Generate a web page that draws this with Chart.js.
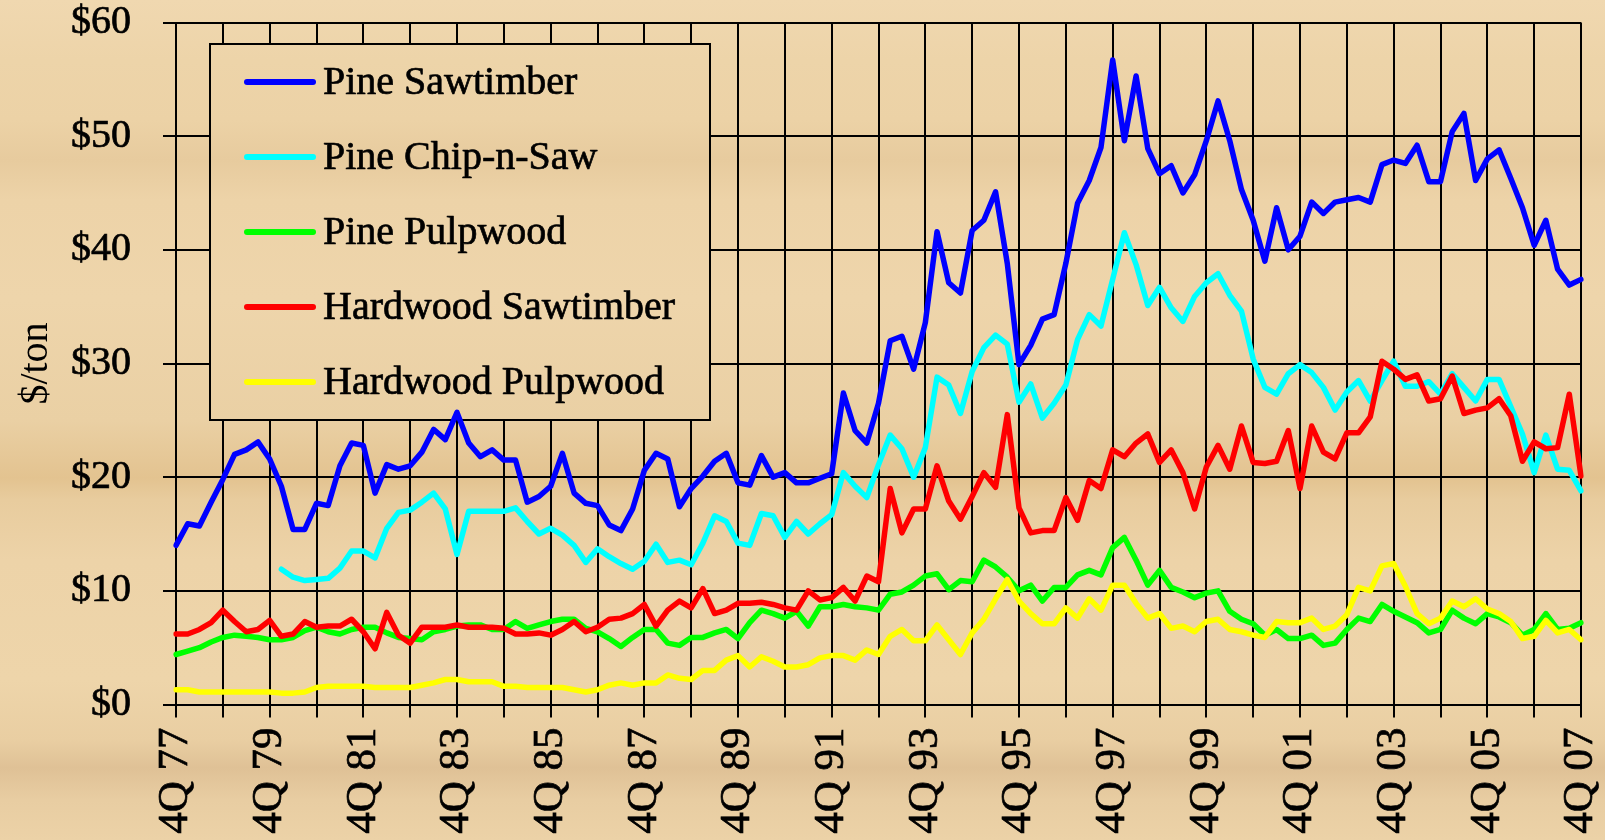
<!DOCTYPE html>
<html>
<head>
<meta charset="utf-8">
<script src="https://cdn.jsdelivr.net/npm/chart.js@4.4.1/dist/chart.umd.min.js"></script>
<style>
  html, body { margin: 0; padding: 0; }
  body {
    width: 1605px; height: 840px; overflow: hidden;
    background: linear-gradient(180deg,
      #F0D8B0 0px, #EDD4A9 60px, #ECD2A6 120px, #E7CB9E 160px, #EDD3A8 200px,
      #EED5AB 300px, #EAD0A4 420px, #E3C390 478px, #E8CC9E 500px, #EDD3A8 560px,
      #EED5AA 680px, #E9CEA2 740px, #DFC196 768px, #E8CDA2 800px, #ECD2A7 840px);
  }
  #wrap { position: relative; width: 1605px; height: 840px; }
</style>
</head>
<body>
<div id="wrap"><canvas id="chart" width="1605" height="840"></canvas></div>
<script>
// quarters 4Q77 .. 4Q07
const quarters = []
for (let k = 0; k <= 120; k++) {
    const q = ((3 + k) % 4) + 1
    const yr = (77 + Math.floor((k + 3) / 4)) % 100
    quarters.push(q + 'Q ' + String(yr).padStart(2, '0'))
}

const pineSawtimber = [14.0,15.9,15.7,17.8,19.8,22.0,22.4,23.1,21.6,19.2,
    15.4,15.4,17.7,17.5,21.0,23.0,22.8,18.6,21.1,20.7,
    21.0,22.2,24.2,23.3,25.7,23.0,21.8,22.4,21.5,21.5,
    17.8,18.3,19.2,22.1,18.6,17.7,17.5,15.8,15.3,17.2,
    20.6,22.1,21.6,17.4,19.0,20.1,21.4,22.1,19.5,19.3,
    21.9,20.0,20.4,19.5,19.5,19.9,20.3,27.4,24.1,23.0,
    26.5,32.0,32.4,29.5,33.6,41.6,37.1,36.2,41.7,42.6,
    45.1,38.8,29.9,31.6,33.9,34.3,38.8,44.1,46.1,49.0,
    56.7,49.6,55.3,48.9,46.7,47.4,45.0,46.6,49.6,53.1,
    49.6,45.3,42.6,39.0,43.7,40.0,41.2,44.2,43.2,44.2,
    44.4,44.6,44.2,47.5,47.9,47.6,49.2,46.0,46.0,50.4,
    52.0,46.1,48.0,48.8,46.3,43.7,40.4,42.6,38.3,36.9,
    37.4]

const pineChipNSaw = [null,null,null,null,null,null,null,null,null,
    11.9,11.2,10.9,11.0,11.1,12.0,13.5,13.5,12.9,15.5,
    16.9,17.1,17.8,18.6,17.2,13.2,17.0,17.0,17.0,17.0,
    17.3,16.1,15.0,15.5,14.9,14.0,12.5,13.7,13.0,12.4,
    11.9,12.6,14.1,12.5,12.7,12.3,14.2,16.6,16.1,14.2,
    14.0,16.8,16.6,14.7,16.1,15.0,15.9,16.7,20.4,19.2,
    18.2,21.1,23.7,22.5,20.0,22.6,28.8,28.1,25.6,29.3,
    31.4,32.5,31.7,26.6,28.2,25.2,26.5,28.1,32.1,34.3,
    33.3,37.4,41.5,38.7,35.1,36.7,34.9,33.7,35.9,37.1,
    37.9,36.0,34.6,30.4,27.9,27.3,29.1,29.9,29.2,27.9,
    25.9,27.5,28.5,26.7,28.5,30.2,28.0,28.0,28.4,27.3,
    29.1,27.9,26.7,28.6,28.6,26.2,23.8,20.4,23.7,20.7,
    20.6,18.8]

const pinePulpwood = [4.4,4.7,5.0,5.5,5.9,6.1,6.0,5.9,5.7,5.7,
    5.9,6.5,6.8,6.4,6.2,6.6,6.8,6.8,6.3,5.9,
    5.8,5.7,6.4,6.6,6.9,7.0,7.0,6.6,6.6,7.3,
    6.7,7.0,7.3,7.5,7.5,6.7,6.4,5.8,5.1,5.9,
    6.6,6.6,5.4,5.2,5.9,5.9,6.3,6.6,5.8,7.2,
    8.3,8.0,7.6,8.2,6.9,8.6,8.6,8.8,8.6,8.5,
    8.3,9.7,9.9,10.5,11.3,11.5,10.1,10.9,10.8,12.7,
    12.1,11.2,10.0,10.5,9.1,10.3,10.3,11.4,11.8,11.4,
    13.8,14.7,12.7,10.5,11.8,10.3,9.9,9.4,9.8,10.0,
    8.2,7.5,7.1,6.1,6.6,5.8,5.8,6.1,5.2,5.4,
    6.6,7.6,7.3,8.8,8.2,7.7,7.2,6.3,6.6,8.3,
    7.6,7.1,8.0,7.7,7.2,6.1,6.6,8.0,6.6,6.7,
    7.2]

const hardwoodSawtimber = [6.2,6.2,6.6,7.2,8.3,7.3,6.4,6.6,7.4,6.0,
    6.2,7.3,6.8,6.9,6.9,7.5,6.4,4.9,8.1,6.1,
    5.4,6.8,6.8,6.8,7.0,6.8,6.8,6.8,6.7,6.2,
    6.2,6.3,6.1,6.6,7.3,6.4,6.8,7.5,7.6,8.0,
    8.8,6.9,8.3,9.1,8.5,10.2,8.0,8.3,8.9,8.9,
    9.0,8.8,8.5,8.3,10.0,9.2,9.4,10.3,9.1,11.3,
    10.8,19.0,15.1,17.2,17.2,21.0,17.9,16.3,18.3,20.4,
    19.1,25.5,17.3,15.1,15.3,15.3,18.2,16.2,19.7,19.0,
    22.4,21.8,23.0,23.8,21.3,22.4,20.4,17.2,20.9,22.8,
    20.7,24.5,21.3,21.2,21.4,24.1,19.0,24.5,22.2,21.6,
    23.9,23.9,25.3,30.2,29.5,28.6,29.0,26.7,26.9,28.9,
    25.6,25.9,26.1,26.9,25.4,21.4,23.1,22.5,22.6,27.3,
    20.1]

const hardwoodPulpwood = [1.3,1.3,1.1,1.1,1.1,1.1,1.1,1.1,1.1,1.0,
    1.0,1.1,1.5,1.6,1.6,1.6,1.6,1.5,1.5,1.5,
    1.5,1.7,1.9,2.2,2.2,2.0,2.0,2.0,1.6,1.6,
    1.5,1.5,1.5,1.5,1.3,1.1,1.3,1.7,1.9,1.7,
    1.9,1.9,2.6,2.3,2.2,3.0,3.0,3.9,4.3,3.3,
    4.2,3.8,3.3,3.3,3.5,4.1,4.3,4.3,3.9,4.8,
    4.4,6.0,6.6,5.6,5.6,7.0,5.7,4.4,6.3,7.5,
    9.3,11.0,9.1,8.0,7.1,7.1,8.5,7.6,9.3,8.3,
    10.5,10.5,8.9,7.6,8.0,6.7,6.9,6.4,7.3,7.5,
    6.6,6.4,6.1,5.9,7.3,7.2,7.2,7.6,6.6,6.9,
    7.9,10.3,10.0,12.2,12.4,10.4,8.0,7.1,7.6,9.1,
    8.6,9.3,8.4,8.0,7.3,5.8,6.0,7.4,6.3,6.6,
    5.7]

const FONT = '"Liberation Serif", "Times New Roman", serif'

function line(label, data, color, order) {
    return {
        label: label,
        data: data,
        borderColor: color,
        backgroundColor: color,
        borderWidth: 5.5,
        pointRadius: 0,
        tension: 0,
        fill: false,
        borderJoinStyle: 'round',
        borderCapStyle: 'round',
        order: order
    }
}

// legend box drawn inside the plot, over the grid but under the lines
const legendBox = {
    id: 'legendBox',
    beforeDatasetsDraw(chart) {
        const ctx = chart.ctx
        const x = 210, y = 44, w = 500, h = 376
        ctx.save()
        ctx.clearRect(x, y, w, h)
        ctx.lineWidth = 2
        ctx.strokeStyle = '#000'
        ctx.strokeRect(x, y, w, h)
        ctx.font = '40px ' + FONT
        ctx.textBaseline = 'middle'
        chart.data.datasets.forEach((ds, k) => {
            const ry = 82 + k * 75
            ctx.strokeStyle = ds.borderColor
            ctx.lineWidth = 6
            ctx.lineCap = 'round'
            ctx.beginPath()
            ctx.moveTo(247, ry)
            ctx.lineTo(313, ry)
            ctx.stroke()
            ctx.fillStyle = '#000'
            ctx.strokeStyle = '#000'
            ctx.lineWidth = 0.7
            ctx.lineJoin = 'round'
            ctx.fillText(ds.label, 323, ry + 1)
            ctx.strokeText(ds.label, 323, ry + 1)
        })
        ctx.restore()
    }
}

const chart = new Chart(document.getElementById('chart'), {
    type: 'line',
    data: {
        labels: quarters,
        datasets: [
            line('Pine Sawtimber', pineSawtimber, '#0000FF', 5),
            line('Pine Chip-n-Saw', pineChipNSaw, '#00FFFF', 4),
            line('Pine Pulpwood', pinePulpwood, '#00FF00', 3),
            line('Hardwood Sawtimber', hardwoodSawtimber, '#FF0000', 2),
            line('Hardwood Pulpwood', hardwoodPulpwood, '#FFFF00', 1)
        ]
    },
    options: {
        responsive: false,
        animation: false,
        layout: { padding: { top: 22.5, right: 24, left: 0, bottom: 0 } },
        plugins: {
            legend: { display: false },
            tooltip: { enabled: false }
        },
        scales: {
            x: {
                grid: {
                    color: c => c.index % 4 === 0 ? '#000' : 'rgba(0,0,0,0)',
                    lineWidth: 2,
                    tickLength: 13
                },
                border: { color: '#000', width: 2 },
                ticks: {
                    autoSkip: false,
                    minRotation: 90,
                    maxRotation: 90,
                    padding: 10,
                    color: '#000',
                    textStrokeColor: '#000',
                    textStrokeWidth: 0.7,
                    font: { family: FONT, size: 43 },
                    callback: (v, i) => i % 8 === 0 ? quarters[i] : ''
                },
                afterFit: s => {
                    s.height = 135.5
                    s.paddingLeft = 0
                    s.paddingRight = 0
                }
            },
            y: {
                min: 0,
                max: 60,
                grid: { color: '#000', lineWidth: 2, tickLength: 13 },
                border: { color: '#000', width: 2 },
                ticks: {
                    stepSize: 10,
                    padding: 32,
                    color: '#000',
                    textStrokeColor: '#000',
                    textStrokeWidth: 0.7,
                    font: { family: FONT, size: 40 },
                    callback: v => '$' + v
                },
                title: {
                    display: true,
                    text: '$/ton',
                    color: '#000',
                    font: { family: FONT, size: 40 },
                    padding: { top: 12, bottom: 0 }
                },
                afterFit: s => {
                    s.width = 176
                    s.paddingTop = 0
                    s.paddingBottom = 0
                }
            }
        }
    },
    plugins: [legendBox]
})
</script>
</body>
</html>
